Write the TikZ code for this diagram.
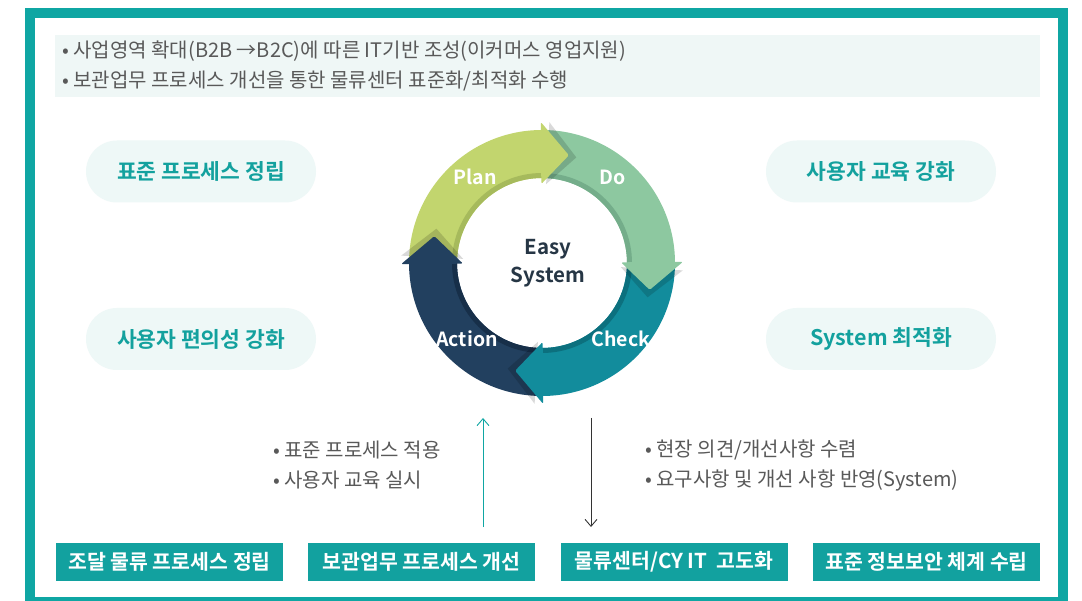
\documentclass[tikz,border=0pt]{standalone}
\usepackage{fontspec}
\setmainfont{Noto Sans CJK KR}[BoldFont={Noto Sans CJK KR Bold}]
\usetikzlibrary{arrows.meta}
\definecolor{framec}{HTML}{0FA6A3}
\definecolor{headbg}{HTML}{EFF7F6}
\definecolor{pillbg}{HTML}{EEF8F7}
\definecolor{pilltext}{HTML}{13A19E}
\definecolor{boxc}{HTML}{12A19F}
\definecolor{graytext}{HTML}{595959}
\definecolor{planc}{HTML}{C2D56E}
\definecolor{plandk}{HTML}{A6BA5C}
\definecolor{doc}{HTML}{8DC8A0}
\definecolor{dodk}{HTML}{74AD8A}
\definecolor{checkc}{HTML}{128C9C}
\definecolor{checkdk}{HTML}{0C707E}
\definecolor{actionc}{HTML}{22405F}
\definecolor{actiondk}{HTML}{172F49}
\definecolor{centertext}{HTML}{263645}
\begin{document}
\begin{tikzpicture}[x=1pt,y=-1pt,
  headtxt/.style={anchor=west, inner sep=0pt, text=graytext, font=\fontsize{20}{24}\selectfont},
  pill/.style={fill=pillbg, rounded corners=31pt, minimum width=230pt, minimum height=62pt, inner sep=0pt, text=pilltext, font=\bfseries\fontsize{21.5}{25}\selectfont},
  bullettxt/.style={anchor=west, inner sep=0pt, text=graytext, font=\fontsize{20}{24}\selectfont},
  bottombox/.style={fill=boxc, minimum width=227pt, minimum height=38pt, inner sep=0pt, text=white, font=\bfseries\fontsize{20.5}{24}\selectfont},
  seglabel/.style={text=white, inner sep=0pt, font=\bfseries\fontsize{19.5}{23}\selectfont},
  flowarrow/.style={line width=0.9pt, -{Straight Barb[length=7pt,width=12pt]}}
]
\useasboundingbox (0,0) rectangle (1082,601);
\clip (0,0) rectangle (1082,601);
\fill[white] (0,0) rectangle (1082,601);
% frame
\draw[framec, line width=10pt] (30,13) rectangle (1063,602);
% header
\fill[headbg] (55,35) rectangle (1040,97);
\node[headtxt] (h1) at (62,51) {• 사업영역 확대(B2B →B2C)에 따른 IT기반 조성(이커머스 영업지원)};
\node[headtxt] (h2) at (62,81) {• 보관업무 프로세스 개선을 통한 물류센터 표준화/최적화 수행};
% pills
\node[pill] (p1) at (201,171.5) {표준 프로세스 정립};
\node[pill] (p2) at (201,339) {사용자 편의성 강화};
\node[pill] (p3) at (881,171.5) {사용자 교육 강화};
\node[pill] (p4) at (881,339) {System 최적화};
% cycle
\begin{scope}[shift={(542,263)}, x=1pt, y=1pt]
  % bodies
  \fill[planc] (180:133) arc[start angle=180,end angle=90,radius=133] -- (90:85) arc[start angle=90,end angle=180,radius=85] -- cycle;
  \fill[doc] (90:133) arc[start angle=90,end angle=0,radius=133] -- (0:85) arc[start angle=0,end angle=90,radius=85] -- cycle;
  \fill[checkc] (0:133) arc[start angle=0,end angle=-90,radius=133] -- (-90:85) arc[start angle=-90,end angle=0,radius=85] -- cycle;
  \fill[actionc] (-90:133) arc[start angle=-90,end angle=-180,radius=133] -- (-180:85) arc[start angle=-180,end angle=-90,radius=85] -- cycle;
  % inner bevels
  \draw[plandk, line width=5pt] (180:87.5) arc[start angle=180,end angle=90,radius=87.5];
  \draw[dodk, line width=5pt] (90:87.5) arc[start angle=90,end angle=0,radius=87.5];
  \draw[checkdk, line width=5pt] (0:87.5) arc[start angle=0,end angle=-90,radius=87.5];
  \draw[actiondk, line width=5pt] (-90:87.5) arc[start angle=-90,end angle=-180,radius=87.5];
  % head shadows
  \fill[black, opacity=0.15] (87:141) -- (72:111) -- (87:79) -- cycle;
  \fill[black, opacity=0.15] (-3:141) -- (-18:111) -- (-3:79) -- cycle;
  \fill[black, opacity=0.15] (-93:141) -- (-108:111) -- (-93:79) -- cycle;
  \fill[black, opacity=0.15] (-183:141) -- (-198:111) -- (-183:79) -- cycle;
  % heads
  \fill[planc, rounded corners=1.5pt] (90.5:141) -- (76:111) -- (90.5:79) -- cycle;
  \fill[doc, rounded corners=1.5pt] (0.5:141) -- (-14:111) -- (0.5:79) -- cycle;
  \fill[checkc, rounded corners=1.5pt] (-89.5:141) -- (-104:111) -- (-89.5:79) -- cycle;
  \fill[actionc, rounded corners=1.5pt] (-179.5:141) -- (-194:111) -- (-179.5:79) -- cycle;
  % labels
  \node[seglabel] (lplan) at (-67,86) {Plan};
  \node[seglabel] (ldo) at (71,86) {Do};
  \node[seglabel] (lcheck) at (79,-76) {Check};
  \node[seglabel] (laction) at (-75,-76) {Action};
  \node[text=centertext, align=center, inner sep=0pt, font=\bfseries\fontsize{20.5}{28}\selectfont] (center) at (6,0) {Easy\\System};
\end{scope}
% bullets
\node[bullettxt] (b1) at (273,450) {• 표준 프로세스 적용};
\node[bullettxt] (b2) at (273,480) {• 사용자 교육 실시};
\node[bullettxt] (b3) at (645,450) {• 현장 의견/개선사항 수렴};
\node[bullettxt] (b4) at (645,480) {• 요구사항 및 개선 사항 반영(System)};
% arrows
\coordinate (upS) at (483,527);
\coordinate (upE) at (483,418);
\coordinate (dnS) at (591,418);
\coordinate (dnE) at (591,527);
\draw[flowarrow, framec] (upS) -- (upE);
\draw[flowarrow, black!80] (dnS) -- (dnE);
% bottom boxes
\node[bottombox] (x1) at (169.5,561.5) {조달 물류 프로세스 정립};
\node[bottombox] (x2) at (421.5,561.5) {보관업무 프로세스 개선};
\node[bottombox] (x3) at (674,561.5) {물류센터/CY IT\ \ 고도화};
\node[bottombox] (x4) at (926.5,561.5) {표준 정보보안 체계 수립};
\end{tikzpicture}
\end{document}
